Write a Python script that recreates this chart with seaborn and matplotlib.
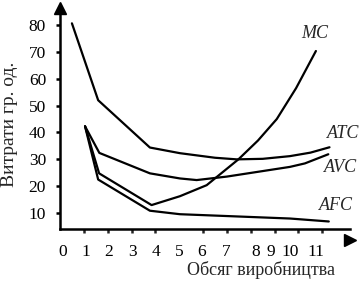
import numpy as np
import pandas as pd
import matplotlib
matplotlib.use("Agg")
import matplotlib.pyplot as plt
import seaborn as sns

# ---- data ----
atc_x = [0.5, 1.6, 3.77, 5.03, 6.5, 7.41, 8.5, 9.64, 10.5, 11.3]
atc_y = [80.6, 52.0, 34.4, 32.3, 30.6, 30.0, 30.2, 31.2, 32.5, 34.5]

avc_x = [1.05, 1.65, 3.77, 5.03, 5.73, 7.0, 9.64, 10.27, 11.25]
avc_y = [42.3, 32.4, 24.8, 22.9, 22.3, 23.6, 27.2, 28.5, 31.9]

mc_x = [1.05, 1.64, 3.84, 5.03, 6.15, 7.48, 8.3, 9.09, 9.9, 10.73]
mc_y = [42.3, 24.8, 13.0, 16.3, 20.4, 30.0, 37.0, 45.0, 56.5, 70.3]

afc_x = [1.05, 1.6, 3.77, 5.03, 9.64, 11.27]
afc_y = [42.3, 22.5, 10.9, 9.6, 8.0, 6.9]

curve_names = ["ATC", "AVC", "MC", "AFC"]
xtick_labels = ["0", "1", "2", "3", "4", "5", "6", "7", "8", "9", "10", "11"]
ytick_values = [10, 20, 30, 40, 50, 60, 70, 80]
y_label = "Витрати гр. од."
x_label = "Обсяг виробництва"

# layout only (positions of the unevenly placed tick labels, in data units)
xlabel_pos = [0.12, 1.09, 2.05, 3.06, 4.03, 5.0, 5.95, 6.96, 8.22, 8.85, 9.65, 10.73]

frames = []
for name, xs, ys in [("ATC", atc_x, atc_y), ("AVC", avc_x, avc_y),
                     ("MC", mc_x, mc_y), ("AFC", afc_x, afc_y)]:
    frames.append(pd.DataFrame({"x": xs, "y": ys, "curve": name}))
df = pd.concat(frames, ignore_index=True)

sns.set_theme(style="ticks")
plt.rcParams["font.family"] = ["Liberation Serif", "DejaVu Serif"]

fig = plt.figure(figsize=(3.64, 2.84), dpi=100)
ax = fig.add_axes([60 / 364, 1 - 229 / 284, (350 - 60) / 364, (229 - 8) / 284])

sns.lineplot(data=df, x="x", y="y", hue="curve", units="curve", estimator=None,
             sort=False, palette={n: "black" for n in curve_names},
             linewidth=1.6, legend=False, ax=ax)

ax.set_xlim(0, 12.16)
ax.set_ylim(4.1, 86.3)

for s in ["top", "right"]:
    ax.spines[s].set_visible(False)
for s in ["left", "bottom"]:
    ax.spines[s].set_linewidth(1.8)
    ax.spines[s].set_color("black")

# arrow heads
ax.plot(1, 0, ">", color="black", markersize=8.5, transform=ax.get_yaxis_transform(), clip_on=False)
ax.plot(0, 1, "^", color="black", markersize=8.5, transform=ax.get_xaxis_transform(), clip_on=False)

ax.set_yticks(ytick_values)
ax.set_yticklabels([str(v) for v in ytick_values])
ax.tick_params(axis="y", direction="out", length=3, width=1.8, pad=7,
               labelsize=12.5, colors="black")

# tick marks at integers, labels at their own places
ax.set_xticks(range(1, 12), minor=True)
ax.tick_params(axis="x", which="minor", direction="out", length=3, width=1.8)
ax.set_xticks(xlabel_pos)
ax.set_xticklabels(xtick_labels)
ax.tick_params(axis="x", which="major", length=0, pad=11, labelsize=12.5, colors="black")

ax.set_xlabel("")
ax.set_ylabel("")
fig.text(10 / 364, 1 - 124.5 / 284, y_label, ha="center", va="center",
         rotation=90, fontsize=14)
fig.text(261 / 364, 1 - 270 / 284, x_label, ha="center", va="center", fontsize=13)

label_pos = {"MC": (315, 33), "ATC": (343, 134), "AVC": (341, 167), "AFC": (336, 205)}
for name in curve_names:
    px, py = label_pos[name]
    fig.text(px / 364, 1 - py / 284, name, ha="center", va="center",
             fontsize=13, style="italic")

fig.savefig("out.png", dpi=100)
